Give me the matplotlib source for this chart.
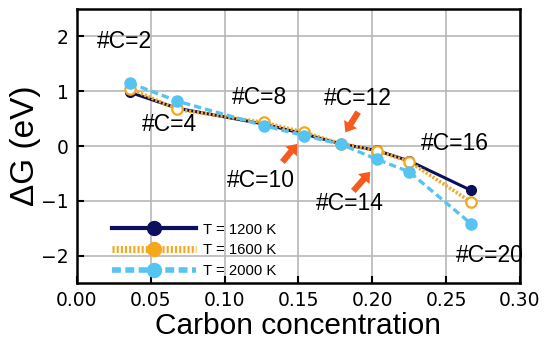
import matplotlib
matplotlib.use("Agg")
import matplotlib.pyplot as plt
from matplotlib.lines import Line2D

# data
conc = [0.036, 0.068, 0.127, 0.154, 0.179, 0.203, 0.225, 0.267]
dg_1200 = [0.98, 0.69, 0.40, 0.22, 0.04, -0.08, -0.27, -0.81]
dg_1600 = [1.05, 0.67, 0.43, 0.25, 0.04, -0.085, -0.285, -1.02]
dg_2000 = [1.15, 0.82, 0.37, 0.19, 0.03, -0.24, -0.47, -1.42]

labels = ["#C=2", "#C=4", "#C=8", "#C=10", "#C=12", "#C=14", "#C=16", "#C=20"]
label_x = [0.0324, 0.0628, 0.1236, 0.1243, 0.1905, 0.1851, 0.2561, 0.2797]
label_y = [1.91, 0.40, 0.89, -0.62, 0.87, -1.05, 0.05, -2.0]

# arrows (tail -> head) pointing at #C=12, #C=10, #C=14
arrow_tail = [(0.1905, 0.62), (0.1392, -0.29), (0.1872, -0.82)]
arrow_head = [(0.1818, 0.25), (0.1493, 0.04), (0.1986, -0.47)]

navy = "#0b0f5c"
orange = "#f5a81c"
blue = "#55c4f2"
red = "#f75a1e"

fig = plt.figure(figsize=(5.45, 3.49), dpi=100)
ax = fig.add_axes([0.141, 0.189, 0.813, 0.785])

ax.plot(conc, dg_1200, color=navy, lw=2.2, marker="o", ms=7, zorder=3)
ax.plot(conc, dg_1600, color=orange, lw=2.6, dashes=(0.6, 0.5), marker="o", ms=7.5,
        mfc="white", mec=orange, mew=1.6, zorder=4)
ax.plot(conc, dg_2000, color=blue, lw=2.4, dashes=(2.2, 1.2), marker="o", ms=8,
        mec=blue, zorder=5)

for t, x, y in zip(labels, label_x, label_y):
    ax.text(x, y, t, ha="center", va="center", fontsize=16.5,
            family="Liberation Sans", zorder=6)

for (x0, y0), (x1, y1) in zip(arrow_tail, arrow_head):
    ax.annotate("", xy=(x1, y1), xytext=(x0, y0),
                arrowprops=dict(facecolor=red, edgecolor="none", width=4.5,
                                headwidth=11, headlength=7, shrink=0),
                zorder=6)

ax.set_xlim(0, 0.3)
ax.set_ylim(-2.5, 2.5)
ax.set_xticks([0, 0.05, 0.1, 0.15, 0.2, 0.25, 0.3])
ax.set_yticks([-2, -1, 0, 1, 2])
ax.tick_params(direction="in", length=5, width=1.5, labelsize=13.5, pad=6)
ax.grid(True, color="#b8b8b8", lw=1.2)
ax.set_axisbelow(True)
for s in ax.spines.values():
    s.set_linewidth(1.8)

ax.set_xlabel("Carbon concentration", fontsize=21.5, family="Liberation Sans", labelpad=1)
ax.set_ylabel("\u0394G (eV)", fontsize=24, family="Liberation Sans", labelpad=0)

handles = [
    Line2D([], [], color=navy, lw=3, marker="o", ms=10),
    Line2D([], [], color=orange, lw=5, dashes=(0.3, 0.3), marker="o", ms=10,
           mfc=orange, mec=orange),
    Line2D([], [], color=blue, lw=4, dashes=(1.6, 0.8), marker="o", ms=10,
           mfc=blue, mec=blue),
]
leg = ax.legend(handles, ["T = 1200 K", "T = 1600 K", "T = 2000 K"],
                loc="lower left", bbox_to_anchor=(0.05, -0.03), frameon=False,
                handlelength=5.6, handletextpad=0.5, labelspacing=0.45,
                prop=dict(family="Liberation Sans", size=10.7))

fig.savefig("out.png", dpi=100)
